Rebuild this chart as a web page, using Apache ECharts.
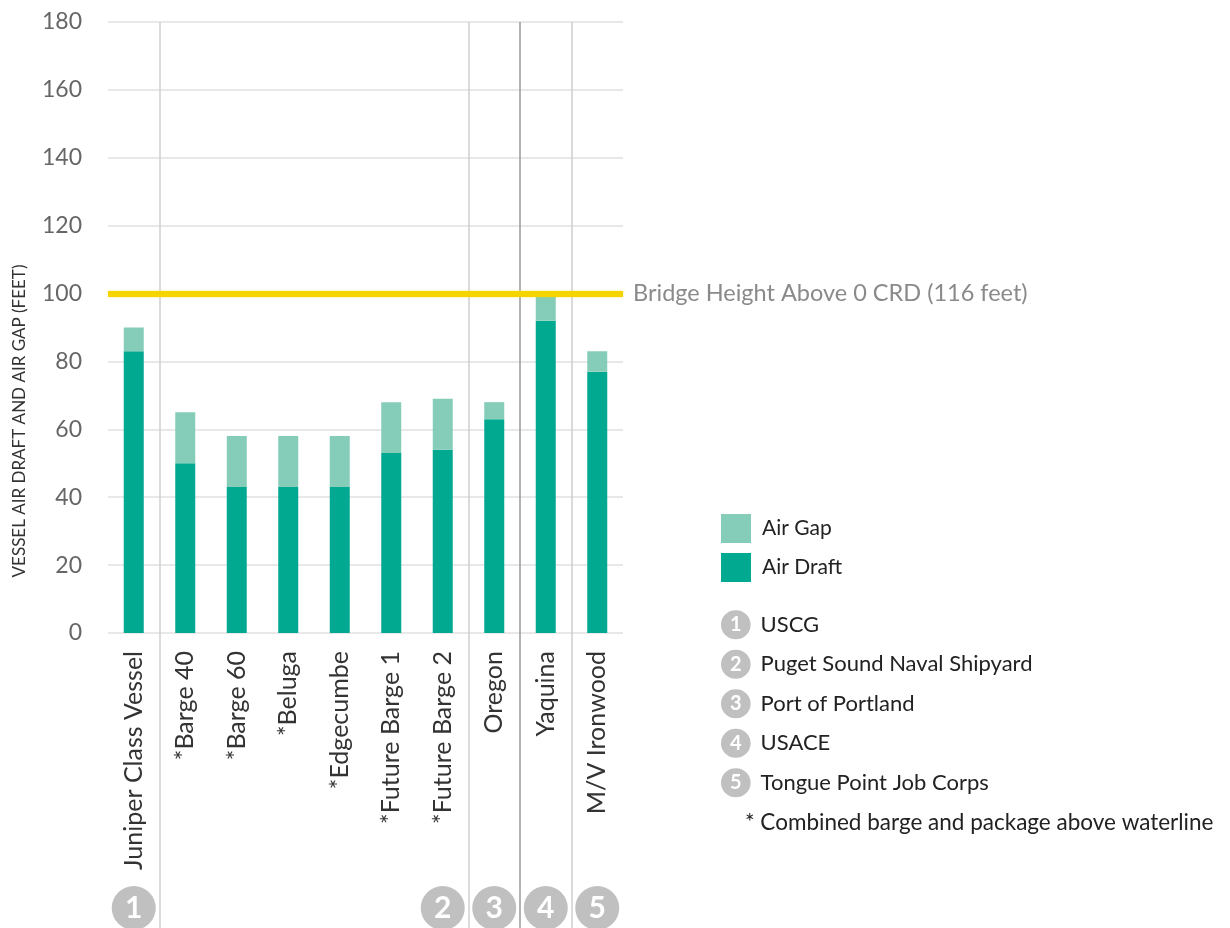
<!DOCTYPE html>
<html>
<head>
<meta charset="utf-8">
<script src="https://cdn.jsdelivr.net/npm/echarts@6/dist/echarts.min.js"></script>
<style>
  html, body { margin: 0; padding: 0; background: #fff; }
  #chart { width: 1230px; height: 928px; }
</style>
</head>
<body>
<div id="chart"></div>
<script>
// Vessels, in display order
const vessels = [
  'Juniper Class Vessel', '*Barge 40', '*Barge 60', '*Beluga', '*Edgecumbe',
  '*Future Barge 1', '*Future Barge 2', 'Oregon', 'Yaquina', 'M/V Ironwood'
];
// Height of the vessel above the waterline (feet)
const airDraft = [83, 50, 43, 43, 43, 53, 54, 63, 92, 77];
// Clearance required above the vessel (feet)
const airGap = [7, 15, 15, 15, 15, 15, 15, 5, 8, 6];
// Operator (1-based) of each vessel
const operatorOf = [1, 2, 2, 2, 2, 2, 2, 3, 4, 5];
const operators = ['USCG', 'Puget Sound Naval Shipyard', 'Port of Portland', 'USACE', 'Tongue Point Job Corps'];
const bridgeHeight = 100;
const bridgeLabel = 'Bridge Height Above 0 CRD (116 feet)';
const yTicks = [0, 20, 40, 60, 80, 100, 120, 140, 160, 180];
const footnote = '* Combined barge and package above waterline';

const FONT = 'Lato, "Noto Sans", sans-serif';
const DRAFT = '#00a98f';
const GAP = '#85cdb8';
const BADGE = '#c0c0c0';

// Each operator's badge sits under its last vessel; a divider starts each new group
const badges = [];
const dividers = [];
operatorOf.forEach((op, i) => {
  if (i === operatorOf.length - 1 || operatorOf[i + 1] !== op) badges.push({ value: [i + 0.5, 0], op });
  if (i > 0 && operatorOf[i - 1] !== op) dividers.push(i);
});

const legendLines = operators.map((name, k) => '{c|' + (k + 1) + '}{t|' + name + '}');
legendLines.push('{n|' + footnote + '}');

const chart = echarts.init(document.getElementById('chart'), null, { renderer: 'canvas' });
chart.setOption({
  animation: false,
  textStyle: { fontFamily: FONT },
  grid: [
    { left: 108, right: 607, top: 22, bottom: 295 },
    { left: 108, right: 607, top: 22, bottom: 0 }
  ],
  legend: {
    data: ['Air Gap', 'Air Draft'],
    orient: 'vertical',
    left: 721, top: 514,
    padding: 0,
    itemWidth: 30, itemHeight: 29, itemGap: 10,
    icon: 'rect',
    selectedMode: false,
    textStyle: { fontFamily: FONT, fontSize: 21, color: '#222', padding: [0, 0, 0, 6] }
  },
  title: {
    left: 721, top: 605,
    padding: 0,
    textAlign: 'left',
    text: legendLines.join('\n'),
    textStyle: {
      fontFamily: FONT, fontWeight: 'normal', fontSize: 22, color: '#222', lineHeight: 39.5,
      rich: {
        c: { height: 29, lineHeight: 29, padding: [0, 9, 0, 9], borderRadius: 15, backgroundColor: BADGE,
             color: '#fff', fontFamily: FONT, fontSize: 20, fontWeight: 'bold' },
        t: { fontFamily: FONT, fontSize: 22, fontWeight: 'normal', color: '#222', padding: [0, 0, 0, 10], lineHeight: 39.5 },
        n: { fontFamily: FONT, fontSize: 22.5, fontWeight: 'normal', color: '#222', padding: [0, 0, 0, 24], lineHeight: 39.5 }
      }
    }
  },
  graphic: [{
    type: 'text',
    x: 20, y: 421,
    rotation: Math.PI / 2,
    style: {
      text: 'VESSEL AIR DRAFT AND AIR GAP (FEET)',
      fontFamily: FONT, fontSize: 17, fill: '#333',
      align: 'center', verticalAlign: 'middle'
    }
  }],
  xAxis: [
    {
      type: 'category', gridIndex: 0, data: vessels,
      axisLine: { show: false }, axisTick: { show: false },
      axisLabel: { rotate: 90, margin: 18, fontFamily: FONT, fontSize: 25, color: '#333' }
    },
    { type: 'value', gridIndex: 1, min: 0, max: vessels.length, show: false }
  ],
  yAxis: [
    {
      type: 'value', gridIndex: 0, min: yTicks[0], max: yTicks[yTicks.length - 1], interval: 20,
      axisLine: { show: false }, axisTick: { show: false },
      axisLabel: { margin: 26, fontFamily: FONT, fontSize: 23, color: '#666' },
      splitLine: { lineStyle: { color: '#e0e0e0', width: 1.5 } }
    },
    { type: 'value', gridIndex: 1, min: 0, max: 1, show: false }
  ],
  series: [
    {
      name: 'Group dividers', type: 'scatter', xAxisIndex: 1, yAxisIndex: 1, data: [], silent: true, z: 1,
      markLine: {
        silent: true, symbol: 'none', label: { show: false },
        data: dividers.map(i => ({
          xAxis: i,
          lineStyle: { type: 'solid', width: 1.5, color: operatorOf[i] === 4 ? '#9a9a9a' : '#cfcfcf' }
        }))
      }
    },
    {
      name: 'Air Draft', type: 'bar', stack: 'total', barWidth: 20, data: airDraft, z: 3,
      itemStyle: { color: DRAFT }
    },
    {
      name: 'Air Gap', type: 'bar', stack: 'total', barWidth: 20, data: airGap, z: 3,
      itemStyle: { color: GAP },
      markLine: {
        silent: true, symbol: 'none', z: 5,
        data: [{ yAxis: bridgeHeight }],
        lineStyle: { type: 'solid', color: '#f5d400', width: 6, shadowColor: 'rgba(245,212,0,0.45)', shadowBlur: 3 },
        label: {
          show: true, position: 'end', distance: 10, formatter: bridgeLabel,
          fontFamily: FONT, fontSize: 23.5, color: '#8a8a8a'
        }
      }
    },
    {
      name: 'Operators', type: 'scatter', xAxisIndex: 1, yAxisIndex: 1, silent: true, z: 4,
      data: badges.map(b => ({ value: b.value, op: b.op })),
      symbol: 'circle', symbolSize: 44, symbolOffset: [0, -20],
      itemStyle: { color: BADGE, opacity: 1 },
      label: {
        show: true, position: 'inside',
        formatter: p => String(p.data.op),
        fontFamily: FONT, fontSize: 30, fontWeight: 'bold', color: '#fff'
      }
    }
  ]
});
</script>
</body>
</html>
